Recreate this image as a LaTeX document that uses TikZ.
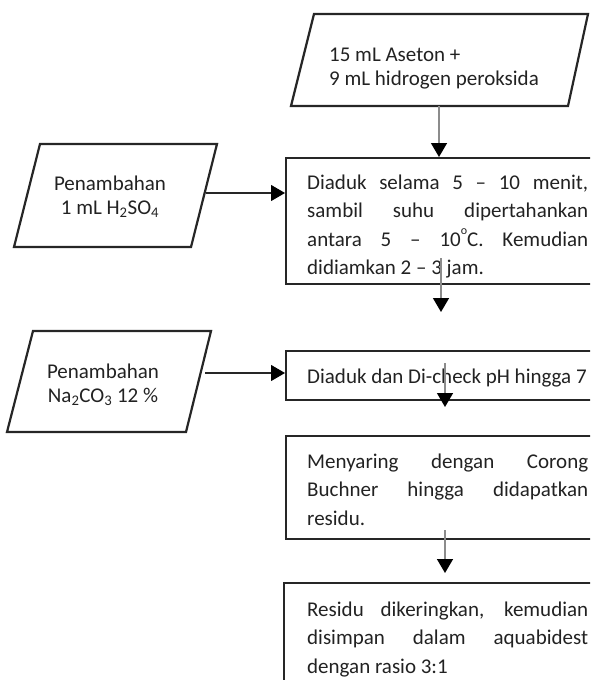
\documentclass[tikz,border=0pt]{standalone}
\usepackage{fontspec}
\setmainfont{Carlito}
\usetikzlibrary{arrows.meta}
\definecolor{edge}{HTML}{262626}
\definecolor{txt}{HTML}{222222}
\definecolor{graylink}{HTML}{8C8C8C}
\newcommand{\degsup}{\raisebox{0.55em}{\fontsize{12}{12}\selectfont o}}
\tikzset{
  x=1pt, y=-1pt,
  shapeline/.style={draw=edge, line width=2.2pt, line join=miter},
  procbox/.style={shapeline, rectangle, inner sep=0pt, anchor=north west},
  para/.style={text=txt, inner sep=0pt, anchor=base west, text width=281pt, align=justify,
    font={\fontsize{21}{28.5}\selectfont\hyphenpenalty=10000\exhyphenpenalty=10000}},
  inlabel/.style={text=txt, inner sep=0pt, align=center,
    font={\fontsize{21}{24}\selectfont}},
  downlink/.style={draw=graylink, line width=1.5pt, -{Triangle[length=14pt,width=16pt,color=black]}, shorten >=0pt},
  sidelink/.style={draw=edge, line width=1.1pt, -{Triangle[length=14pt,width=16pt,color=black]}}
}
\begin{document}
\begin{tikzpicture}
\useasboundingbox (0,0) rectangle (590,680);
\clip (0,0) rectangle (590,680);
% top input parallelogram
\draw[shapeline] (314,14) -- (588,14) -- (568,106) -- (291,106) -- cycle;
\node[text=txt, inner sep=0pt, anchor=base west, align=left,
  font={\fontsize{21}{23.5}\selectfont}] (t0) at (329,85) {15 mL Aseton +\\9 mL hidrogen peroksida};
\coordinate (p0b) at (439,106);
% left parallelograms
\draw[shapeline] (40,144) -- (217,144) -- (191,247) -- (14,247) -- cycle;
\node[inlabel, anchor=base] (l1) at (110,214) {Penambahan\\1 mL H\textsubscript{2}SO\textsubscript{4}};
\coordinate (l1r) at (206,193);
\draw[shapeline] (33,331) -- (211,331) -- (186,432) -- (7,432) -- cycle;
\node[inlabel, anchor=base] (l2) at (103,402) {Penambahan\\Na\textsubscript{2}CO\textsubscript{3} 12 \%};
\coordinate (l2r) at (205,373);
% process boxes
\node[procbox, minimum width=340pt, minimum height=126pt] (b1) at (285,157) {};
\node[para] (t1) at (307,189) {Diaduk selama 5 – 10 menit,\linebreak sambil suhu dipertahankan\linebreak antara 5 – 10\degsup C. Kemudian\linebreak didiamkan 2 – 3 jam.};
\node[procbox, minimum width=340pt, minimum height=49pt] (b2) at (285,350) {};
\node[para] (t2) at (307,383) {Diaduk dan Di-check pH hingga 7};
\node[procbox, minimum width=340pt, minimum height=103pt] (b3) at (285,435) {};
\node[para] (t3) at (307,468) {Menyaring dengan Corong\linebreak Buchner hingga didapatkan\linebreak residu.};
\node[procbox, minimum width=340pt, minimum height=130pt] (b4) at (283,582) {};
\node[para] (t4) at (307,616) {Residu dikeringkan, kemudian\linebreak disimpan dalam aquabidest\linebreak dengan rasio 3:1};
% connectors
\coordinate (a1s) at (441,258);
\coordinate (a1e) at (441,312);
\coordinate (a2s) at (445,363);
\coordinate (a2e) at (445,407);
\coordinate (a3s) at (445,530);
\coordinate (a3e) at (445,573);
\draw[downlink] (p0b) -- (p0b |- b1.north);
\draw[downlink] (a1s) -- (a1e);
\draw[downlink] (a2s) -- (a2e);
\draw[downlink] (a3s) -- (a3e);
\draw[sidelink] (l1r) -- (l1r -| b1.west);
\draw[sidelink] (l2r) -- (l2r -| b2.west);
\end{tikzpicture}
\end{document}
